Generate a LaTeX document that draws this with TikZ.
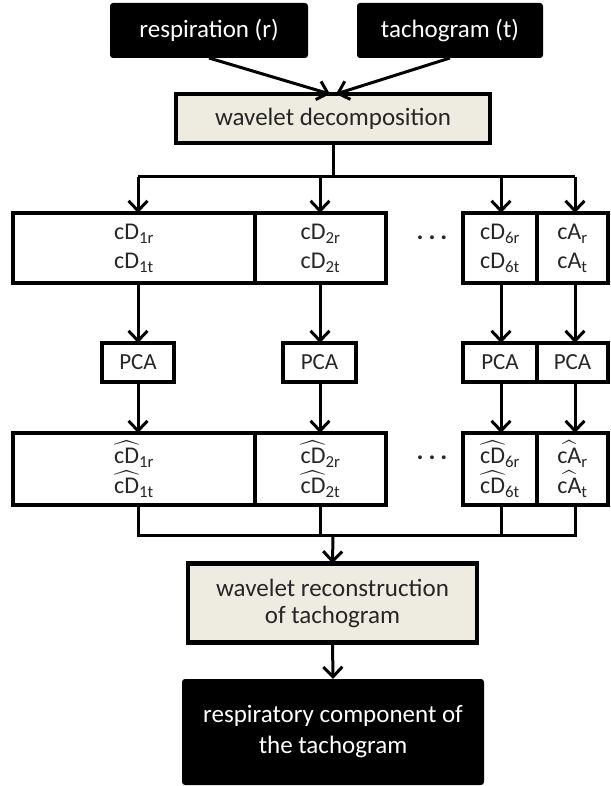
\documentclass[tikz,border=0pt]{standalone}
\usepackage{fontspec}
\setmainfont{Carlito}
\usepackage{amsmath}
\usetikzlibrary{arrows.meta}
\definecolor{beige}{HTML}{EEECE1}
\definecolor{txtgray}{HTML}{262626}
\newcommand{\HatCoef}[2]{$\widehat{\text{#1}}$\textsubscript{#2}}
\begin{document}
\begin{tikzpicture}[x=1pt,y=-1pt,
  base/.style={inner sep=0pt,outer sep=0pt,align=center,font=\fontsize{25}{29}\selectfont},
  blackbox/.style={base,fill=black,text=white,rounded corners=3pt},
  procbox/.style={base,draw=black,line width=4.2pt,fill=beige,text=txtgray},
  cell/.style={base,draw=black,line width=4.2pt,text=txtgray,font=\fontsize{24}{29}\selectfont},
  hatcell/.style={cell,font=\fontsize{24}{30}\selectfont},
  pcabox/.style={base,draw=black,line width=3.6pt,text=txtgray,font=\fontsize{23}{26}\selectfont},
  dotstyle/.style={base,text=txtgray,font=\fontsize{26}{28}\bfseries},
  wire/.style={line width=3pt},
  conn/.style={line width=3pt,-{Straight Barb[length=10pt,width=19pt,line width=3pt]}}]
\useasboundingbox (0,0) rectangle (610,786);

% top inputs
\node[blackbox,minimum width=198pt,minimum height=55pt] (resp) at (209,30.5) {respiration (r)};
\node[blackbox,minimum width=186pt,minimum height=55pt] (tach) at (450,30.5) {tachogram (t)};
\node[procbox,minimum width=314pt,minimum height=49pt] (dec) at (333,118.5) {wavelet decomposition};

\draw[conn] (resp.south) -- ([xshift=-3pt]dec.north);
\draw[conn] (tach.south) -- ([xshift=3pt]dec.north);

% coefficient row
\node[cell,minimum width=242pt,minimum height=70pt] (c1) at (134,248) {cD\textsubscript{1r}\\cD\textsubscript{1t}};
\node[cell,minimum width=131pt,minimum height=70pt] (c2) at (320.5,248) {cD\textsubscript{2r}\\cD\textsubscript{2t}};
\node[cell,minimum width=74pt,minimum height=70pt] (c6) at (500,248) {cD\textsubscript{6r}\\cD\textsubscript{6t}};
\node[cell,minimum width=71pt,minimum height=70pt] (cA) at (572.5,248) {cA\textsubscript{r}\\cA\textsubscript{t}};
\node[dotstyle] (dots1) at (432,238) {.\hspace{5pt}.\hspace{5pt}.};

% bus from decomposition
\coordinate (bj) at (333,177);
\coordinate (b1) at (138,177);
\coordinate (b2) at (320,177);
\coordinate (b6) at (501,177);
\coordinate (bA) at (575,177);
\draw[wire] (dec.south) -- (bj);
\draw[wire] (b1) -- (bA);
\draw[conn] (b1) -- (b1 |- c1.north);
\draw[conn] (b2) -- (b2 |- c2.north);
\draw[conn] (b6) -- (b6 |- c6.north);
\draw[conn] (bA) -- (bA |- cA.north);

% PCA row
\node[pcabox,minimum width=72pt,minimum height=39pt] (p1) at (138,362.5) {PCA};
\node[pcabox,minimum width=73pt,minimum height=39pt] (p2) at (319.5,362.5) {PCA};
\node[pcabox,minimum width=74pt,minimum height=39pt] (p6) at (500,362.5) {PCA};
\node[pcabox,minimum width=71pt,minimum height=39pt] (pA) at (572.5,362.5) {PCA};

\draw[conn] (b1 |- c1.south) -- (b1 |- p1.north);
\draw[conn] (b2 |- c2.south) -- (b2 |- p2.north);
\draw[conn] (b6 |- c6.south) -- (b6 |- p6.north);
\draw[conn] (bA |- cA.south) -- (bA |- pA.north);

% estimated coefficient row
\node[hatcell,minimum width=242pt,minimum height=72pt] (h1) at (134,469) {\HatCoef{cD}{1r}\\\HatCoef{cD}{1t}};
\node[hatcell,minimum width=131pt,minimum height=72pt] (h2) at (320.5,469) {\HatCoef{cD}{2r}\\\HatCoef{cD}{2t}};
\node[hatcell,minimum width=74pt,minimum height=72pt] (h6) at (500,469) {\HatCoef{cD}{6r}\\\HatCoef{cD}{6t}};
\node[hatcell,minimum width=71pt,minimum height=72pt] (hA) at (572.5,469) {\HatCoef{cA}{r}\\\HatCoef{cA}{t}};
\node[dotstyle] (dots2) at (432,458) {.\hspace{5pt}.\hspace{5pt}.};

\draw[conn] (b1 |- p1.south) -- (b1 |- h1.north);
\draw[conn] (b2 |- p2.south) -- (b2 |- h2.north);
\draw[conn] (b6 |- p6.south) -- (b6 |- h6.north);
\draw[conn] (bA |- pA.south) -- (bA |- hA.north);

% merge bus
\coordinate (m1) at (138,535);
\coordinate (m2) at (320,535);
\coordinate (m6) at (501,535);
\coordinate (mA) at (575,535);
\coordinate (mj) at (333,535);
\draw[wire] (b1 |- h1.south) -- (m1) -- (mA) -- (bA |- hA.south);
\draw[wire] (b2 |- h2.south) -- (m2);
\draw[wire] (b6 |- h6.south) -- (m6);

\node[procbox,minimum width=289pt,minimum height=79pt,font=\fontsize{25}{27}\selectfont] (rec) at (332.5,603) {wavelet reconstruction\\of tachogram};
\draw[conn] (mj) -- (rec.north);

\node[blackbox,minimum width=302pt,minimum height=106pt,font=\fontsize{25}{31}\selectfont] (out) at (333,732) {respiratory component of\\the tachogram};
\draw[conn] (rec.south) -- (out.north);
\end{tikzpicture}
\end{document}
